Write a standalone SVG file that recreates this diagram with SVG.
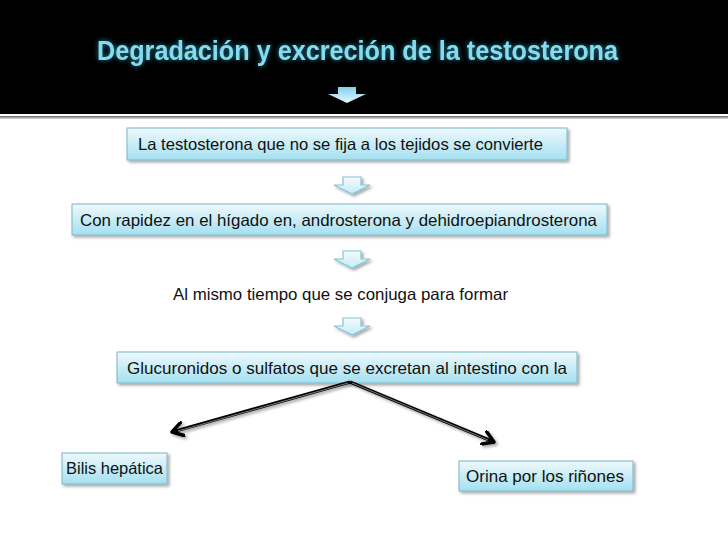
<svg xmlns="http://www.w3.org/2000/svg" width="728" height="546" viewBox="0 0 728 546">
<defs>
<linearGradient id="boxg" x1="0" y1="0" x2="0" y2="1">
<stop offset="0" stop-color="#eef9fc"/>
<stop offset="1" stop-color="#a4e0f0"/>
</linearGradient>
<linearGradient id="arrg" x1="0" y1="0" x2="0" y2="1">
<stop offset="0" stop-color="#f4fbfd"/>
<stop offset="1" stop-color="#c4ecf6"/>
</linearGradient>
<linearGradient id="hdrarr" x1="0" y1="0" x2="0" y2="1">
<stop offset="0" stop-color="#7fd0ec"/>
<stop offset="1" stop-color="#e8f8fd"/>
</linearGradient>
<linearGradient id="rule" x1="0" y1="0" x2="0" y2="1">
<stop offset="0" stop-color="#666"/>
<stop offset="1" stop-color="#ddd"/>
</linearGradient>
<filter id="sh" x="-5%" y="-20%" width="115%" height="160%">
<feDropShadow dx="2" dy="2" stdDeviation="1.5" flood-color="#000" flood-opacity="0.35"/>
</filter>
<filter id="glow" x="-5%" y="-30%" width="110%" height="160%">
<feGaussianBlur in="SourceAlpha" stdDeviation="2.5" result="b"/>
<feFlood flood-color="#2aa6c8" flood-opacity="0.8"/>
<feComposite in2="b" operator="in" result="g"/>
<feMerge><feMergeNode in="g"/><feMergeNode in="SourceGraphic"/></feMerge>
</filter>
<marker id="chev" viewBox="0 0 12 12" refX="9" refY="6" markerWidth="5" markerHeight="5" orient="auto" markerUnits="strokeWidth">
<path d="M1,1 L9,6 L1,11" fill="none" stroke="#000" stroke-width="2.6" stroke-linecap="round" stroke-linejoin="round"/>
</marker>
<style>
.box{fill:url(#boxg);stroke:#7ab6c6;stroke-width:1;filter:url(#sh)}
.t{font-family:"Liberation Sans",Arial,sans-serif;font-size:16.5px;fill:#111}
.ha{fill:url(#arrg);stroke:#86c3d4;stroke-width:1.2;filter:url(#sh)}
.conn{fill:none;stroke:#000;stroke-width:3.2}
.connc{fill:none;stroke:#888;stroke-width:0.9}
</style>
</defs>
<rect x="0" y="0" width="728" height="546" fill="#fff"/>
<rect x="0" y="0" width="728" height="114" fill="#000"/>
<rect x="0" y="116" width="728" height="3" fill="url(#rule)"/>
<g id="title">
<text x="97" y="60" textLength="521" lengthAdjust="spacingAndGlyphs" font-family="Liberation Sans, Arial, sans-serif" font-size="28" font-weight="bold" fill="#86dcee" filter="url(#glow)">Degradación y excreción de la testosterona</text>
<path d="M338,87 H356 V94 H366 L347,103 L328,94 H338 Z" fill="url(#hdrarr)"/>
</g>
<g id="n1">
<rect class="box" x="127" y="128" width="440" height="32"/>
<text class="t" x="138" y="150" textLength="405" lengthAdjust="spacingAndGlyphs">La testosterona que no se fija a los tejidos se convierte</text>
</g>
<g id="a1"><path class="ha" d="M343,177 H361 V185 H370 L352,194 L334,185 H343 Z"/></g>
<g id="n2">
<rect class="box" x="72" y="204" width="535" height="31"/>
<text class="t" x="80" y="226" textLength="517" lengthAdjust="spacingAndGlyphs">Con rapidez en el hígado en, androsterona y dehidroepiandrosterona</text>
</g>
<g id="a2"><path class="ha" d="M343,251 H361 V259 H370 L352,268 L334,259 H343 Z"/></g>
<g id="n3">
<text class="t" x="173" y="300" textLength="335" lengthAdjust="spacingAndGlyphs">Al mismo tiempo que se conjuga para formar</text>
</g>
<g id="a3"><path class="ha" d="M343,318 H361 V326 H370 L352,335 L334,326 H343 Z"/></g>
<g id="n4">
<rect class="box" x="117" y="352" width="460" height="31"/>
<text class="t" x="127" y="374" textLength="440" lengthAdjust="spacingAndGlyphs">Glucuronidos o sulfatos que se excretan al intestino con la</text>
</g>
<g id="n5">
<rect class="box" x="62" y="453" width="105" height="31"/>
<text class="t" x="66" y="474" textLength="97" lengthAdjust="spacingAndGlyphs">Bilis hepática</text>
</g>
<g id="n6">
<rect class="box" x="459" y="461" width="174" height="30"/>
<text class="t" x="466" y="482" textLength="158" lengthAdjust="spacingAndGlyphs">Orina por los riñones</text>
</g>
<g id="connectors" filter="url(#sh)">
<path class="conn" d="M350,382 L172,432" marker-end="url(#chev)"/>
<path class="conn" d="M350,382 L494,442" marker-end="url(#chev)"/>
<path class="connc" d="M348,383 L178,431"/>
<path class="connc" d="M352,383 L488,440"/>
</g>
</svg>
